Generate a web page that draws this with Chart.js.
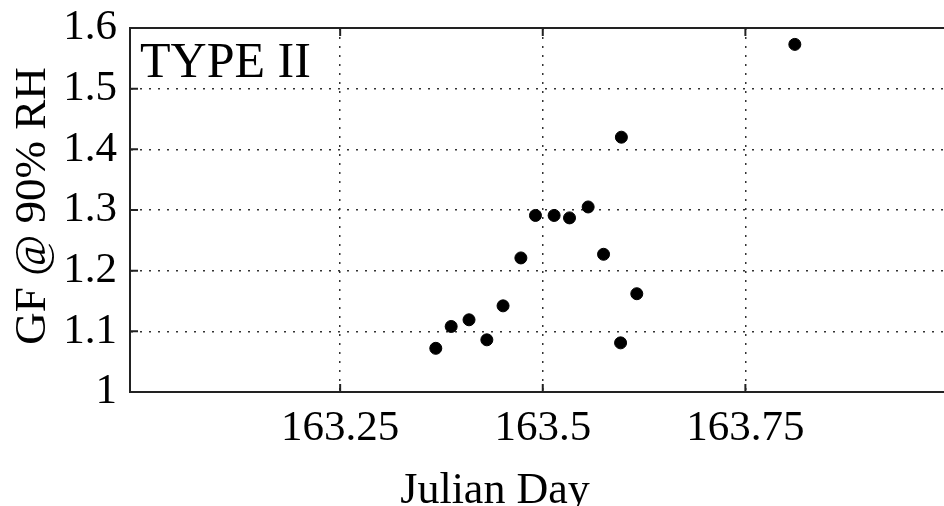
<!DOCTYPE html>
<html>
<head>
<meta charset="utf-8">
<script src="https://cdn.jsdelivr.net/npm/chart.js@4"></script>
<style>
  html, body { margin: 0; padding: 0; overflow: hidden; background: #fff; }
  #wrap { width: 960px; height: 506px; position: relative; }
</style>
</head>
<body>
<div id="wrap"><canvas id="gfChart"></canvas></div>
<script>
// Julian day vs growth factor at 90% RH (TYPE II)
const julianDay = [163.368, 163.387, 163.409, 163.431, 163.451, 163.473, 163.491,
  163.514, 163.533, 163.556, 163.575, 163.596, 163.597, 163.616, 163.811];
const growthFactor = [1.072, 1.108, 1.119, 1.086, 1.142, 1.221, 1.291,
  1.291, 1.287, 1.305, 1.227, 1.081, 1.420, 1.162, 1.573];

const xTicks = [163.25, 163.5, 163.75];
const yTicks = [1, 1.1, 1.2, 1.3, 1.4, 1.5, 1.6];
const yTickLabels = ["1", "1.1", "1.2", "1.3", "1.4", "1.5", "1.6"];

const FONT = "'Liberation Serif', 'DejaVu Serif', serif";

// box frame, inward tick marks and text labels (matlab look)
const framePlugin = {
  id: "frame",
  afterDraw(chart) {
    const { ctx, chartArea: a, scales } = chart;
    ctx.save();
    ctx.strokeStyle = "#222";
    ctx.lineWidth = 2;
    ctx.beginPath();
    ctx.moveTo(a.left - 1, a.top);
    ctx.lineTo(a.right, a.top);
    ctx.lineTo(a.right, a.bottom);
    ctx.stroke();

    ctx.beginPath();
    xTicks.forEach((v) => {
      const px = scales.x.getPixelForValue(v);
      ctx.moveTo(px, a.bottom);
      ctx.lineTo(px, a.bottom - 8);
      ctx.moveTo(px, a.top);
      ctx.lineTo(px, a.top + 8);
    });
    yTicks.forEach((v) => {
      const py = scales.y.getPixelForValue(v);
      ctx.moveTo(a.left, py);
      ctx.lineTo(a.left + 8, py);
    });
    ctx.stroke();

    ctx.fillStyle = "#000";
    ctx.textBaseline = "alphabetic";
    ctx.font = "50px " + FONT;
    ctx.textAlign = "left";
    ctx.fillText("TYPE II", 140, 77);

    ctx.font = "44px " + FONT;
    ctx.textAlign = "center";
    ctx.fillText("Julian Day", 495, 503);

    ctx.translate(45, 206);
    ctx.rotate(-Math.PI / 2);
    ctx.font = "45px " + FONT;
    ctx.fillText("GF @ 90% RH", 0, 0);
    ctx.restore();
  },
};

new Chart(document.getElementById("gfChart"), {
  type: "scatter",
  data: {
    datasets: [
      {
        label: "GF",
        data: julianDay.map((d, i) => ({ x: d, y: growthFactor[i] })),
        backgroundColor: "#000",
        borderColor: "#000",
        pointRadius: 6,
        pointHoverRadius: 6,
      },
    ],
  },
  options: {
    responsive: true,
    maintainAspectRatio: false,
    animation: false,
    layout: { padding: { top: 28, right: 12, left: 0, bottom: 0 } },
    plugins: {
      legend: { display: false },
      tooltip: { enabled: false },
    },
    scales: {
      x: {
        type: "linear",
        min: 162.9907,
        max: 164,
        afterBuildTicks: (s) => { s.ticks = xTicks.map((v) => ({ value: v })); },
        afterFit: (s) => { s.height = 114; s.paddingLeft = 0; s.paddingRight = 0; },
        ticks: {
          color: "#000",
          padding: 11,
          maxRotation: 0,
          font: { family: FONT, size: 43 },
          callback: (v) => String(v),
        },
        grid: { color: "#333", lineWidth: 1.5, drawTicks: false },
        border: { color: "#222", width: 2, dash: [2, 7] },
      },
      y: {
        min: 1,
        max: 1.6,
        afterBuildTicks: (s) => { s.ticks = yTicks.map((v) => ({ value: v })); },
        afterFit: (s) => { s.width = 130; s.paddingTop = 0; s.paddingBottom = 0; },
        ticks: {
          color: "#000",
          padding: 13,
          font: { family: FONT, size: 43 },
          callback: (v, i) => yTickLabels[i],
        },
        grid: { color: "#333", lineWidth: 1.5, drawTicks: false },
        border: { color: "#222", width: 2, dash: [2, 7] },
      },
    },
  },
  plugins: [framePlugin],
});
</script>
</body>
</html>
